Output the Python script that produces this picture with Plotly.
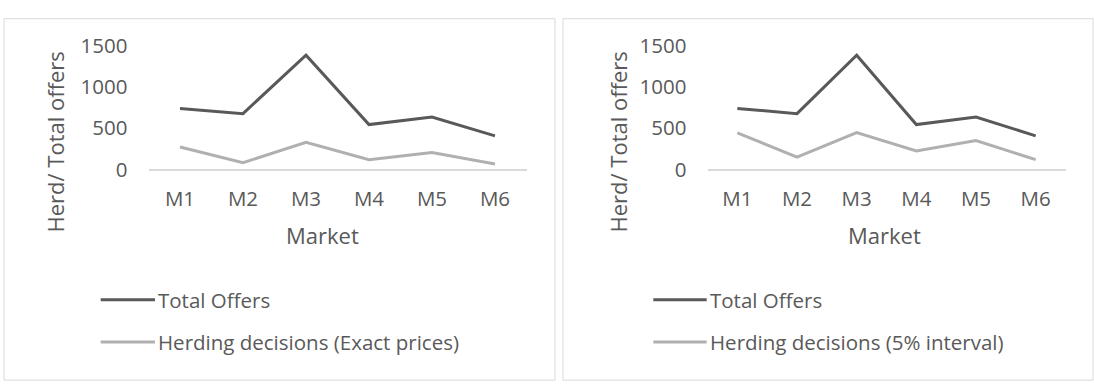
import plotly.graph_objects as go

# Data
markets = ["M1", "M2", "M3", "M4", "M5", "M6"]
total_offers = [740, 677, 1386, 544, 636, 407]
herd_exact = [272, 81, 328, 118, 205, 65]
herd_5pct = [444, 148, 448, 223, 351, 118]
y_ticks = [0, 500, 1000, 1500]

W, H = 1094, 386
DARK = "#595959"
LIGHT = "#b0b0b0"
BORDER = "#d9d9d9"
FONT = "Open Sans"
FS_TICK = 20.5
FS_TITLE = 22
FS_LEG = 20.5


def px(x):
    return x / W


def py(y):
    return 1 - y / H


fig = go.Figure()

fig.add_trace(go.Scatter(x=markets, y=total_offers, mode="lines", name="Total Offers",
                         line=dict(color=DARK, width=3), xaxis="x", yaxis="y", showlegend=False))
fig.add_trace(go.Scatter(x=markets, y=herd_exact, mode="lines", name="Herding decisions (Exact prices)",
                         line=dict(color=LIGHT, width=3), xaxis="x", yaxis="y", showlegend=False))
fig.add_trace(go.Scatter(x=markets, y=total_offers, mode="lines", name="Total Offers",
                         line=dict(color=DARK, width=3), xaxis="x2", yaxis="y2", showlegend=False))
fig.add_trace(go.Scatter(x=markets, y=herd_5pct, mode="lines", name="Herding decisions (5% interval)",
                         line=dict(color=LIGHT, width=3), xaxis="x2", yaxis="y2", showlegend=False))

y_dom = [py(166.5), py(33.2)]

xcommon = dict(type="category", range=[-0.5, 5.5], showgrid=False, zeroline=False,
               showline=True, linecolor=BORDER, linewidth=2, ticks="",
               ticklabelstandoff=10, tickfont=dict(family=FONT, size=FS_TICK, color=DARK))
ycommon = dict(range=[0, 1500], tickvals=y_ticks, showgrid=False, zeroline=False,
               showline=False, ticks="", ticklabelstandoff=20,
               tickfont=dict(family=FONT, size=FS_TICK, color=DARK), domain=y_dom)

fig.update_layout(
    width=W, height=H, margin=dict(l=0, r=0, t=0, b=0),
    paper_bgcolor="white", plot_bgcolor="white",
    font=dict(family=FONT, size=FS_TICK, color=DARK),
    xaxis=dict(domain=[px(148.5), px(526.5)], anchor="y", **xcommon),
    yaxis=dict(anchor="x", **ycommon),
    xaxis2=dict(domain=[px(707.5), px(1065.5)], anchor="y2", **xcommon),
    yaxis2=dict(anchor="x2", **ycommon),
)

shapes = []
annotations = []

# Chart area borders
for x0, x1 in [(4, 555), (563, 1093)]:
    shapes.append(dict(type="rect", xref="paper", yref="paper",
                       x0=px(x0), x1=px(x1), y0=py(4), y1=-0.02,
                       line=dict(color=BORDER, width=1), fillcolor="rgba(0,0,0,0)", layer="below"))

# Axis titles
for xc, mx in [(55, 322), (618, 884)]:
    annotations.append(dict(text="Herd/ Total offers", xref="paper", yref="paper",
                            x=px(xc), y=py(137.5), textangle=-90, showarrow=False,
                            xanchor="center", yanchor="middle",
                            font=dict(family=FONT, size=FS_TITLE, color=DARK)))
    annotations.append(dict(text="Market", xref="paper", yref="paper",
                            x=px(mx), y=py(237), showarrow=False,
                            xanchor="center", yanchor="middle",
                            font=dict(family=FONT, size=FS_TITLE, color=DARK)))

# Legends below each chart
legends = [
    (100.7, 155, ["Total Offers", "Herding decisions (Exact prices)"]),
    (653.3, 706.7, ["Total Offers", "Herding decisions (5% interval)"]),
]
for lx0, lx1, labels in legends:
    for ly, color, label in zip([307, 352.7], [DARK, LIGHT], labels):
        shapes.append(dict(type="line", xref="paper", yref="paper",
                           x0=px(lx0), x1=px(lx1), y0=py(ly), y1=py(ly),
                           line=dict(color=color, width=3)))
        annotations.append(dict(text=label, xref="paper", yref="paper",
                                x=px(lx1 + 1), y=py(ly), showarrow=False,
                                xanchor="left", yanchor="middle",
                                font=dict(family=FONT, size=FS_LEG, color=DARK)))

fig.update_layout(shapes=shapes, annotations=annotations)

fig.write_html("out.html")
